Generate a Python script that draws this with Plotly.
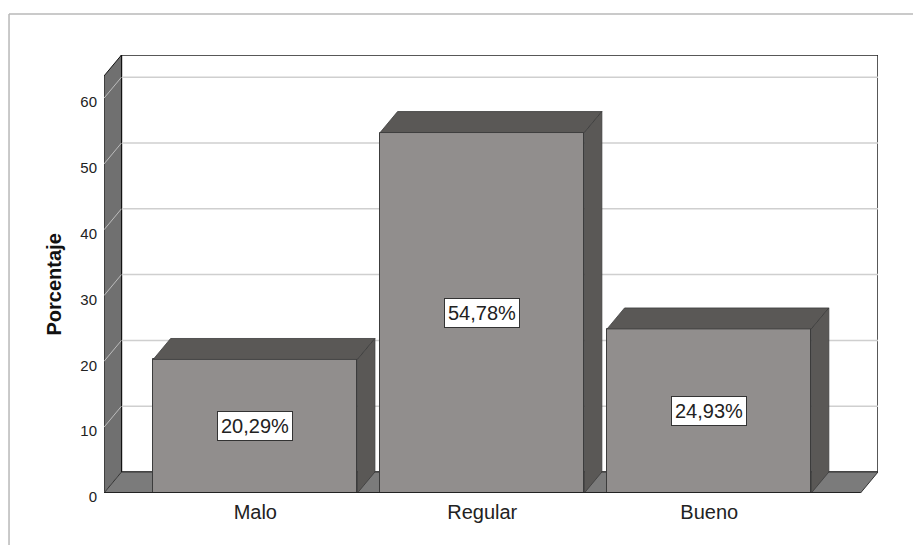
import plotly.graph_objects as go

# ---- data ----
categories = ["Malo", "Regular", "Bueno"]
percentages = [20.29, 54.78, 24.93]
y_ticks = [0, 10, 20, 30, 40, 50, 60]

# ---- style constants ----
FONT = "Liberation Sans, Arial, sans-serif"
BAR_W = 0.9
DX = 0.077          # depth offset (x units)
DY = 3.19           # depth offset (y units)
XL = -2 / 3         # front-left edge of floor
XR = 2 + 2 / 3      # front-right edge of floor
WALL_TOP = 63.37    # front height of the wall
Y_MAX = WALL_TOP + DY
FRONT = "#918e8d"
DARK = "#5a5856"
EDGE = "#3c3c3c"

fig = go.Figure()

# front faces of bars
fig.add_trace(go.Bar(
    x=list(range(len(categories))), y=percentages, width=BAR_W,
    marker=dict(color=FRONT, line=dict(color=EDGE, width=1)),
    hoverinfo="skip", showlegend=False,
))

# top and side faces (3D effect)
for i, v in enumerate(percentages):
    x0, x1 = i - BAR_W / 2, i + BAR_W / 2
    fig.add_trace(go.Scatter(
        x=[x0, x1, x1 + DX, x0 + DX, x0], y=[v, v, v + DY, v + DY, v],
        mode="lines", fill="toself", fillcolor=DARK,
        line=dict(color=EDGE, width=0.8), hoverinfo="skip", showlegend=False))
    fig.add_trace(go.Scatter(
        x=[x1, x1, x1 + DX, x1 + DX, x1], y=[0, v, v + DY, DY, 0],
        mode="lines", fill="toself", fillcolor=DARK,
        line=dict(color=EDGE, width=0.8), hoverinfo="skip", showlegend=False))

shapes = []
# back wall
shapes.append(dict(type="rect", xref="x", yref="y", x0=XL + DX, x1=XR + DX,
                   y0=DY, y1=Y_MAX, fillcolor="white",
                   line=dict(color="#222", width=1.5), layer="below"))
for t in y_ticks[1:]:
    shapes.append(dict(type="line", xref="x", yref="y", x0=XL + DX, x1=XR + DX,
                       y0=t + DY, y1=t + DY, line=dict(color="#cfcfcf", width=1.5),
                       layer="below"))
# left side panel
shapes.append(dict(type="path", xref="x", yref="y",
                   path=f"M {XL},0 L {XL},{WALL_TOP} L {XL+DX},{WALL_TOP+DY} L {XL+DX},{DY} Z",
                   fillcolor="#707070", line=dict(color="#111", width=1), layer="below"))
for t in y_ticks:
    shapes.append(dict(type="line", xref="x", yref="y", x0=XL, x1=XL + DX,
                       y0=t, y1=t + DY, line=dict(color="#bdbdbd", width=1),
                       layer="below"))
# floor
shapes.append(dict(type="path", xref="x", yref="y",
                   path=f"M {XL},0 L {XR},0 L {XR+DX},{DY} L {XL+DX},{DY} Z",
                   fillcolor="#7b7b7b", line=dict(color="#333", width=1), layer="below"))
shapes.append(dict(type="line", xref="x", yref="y", x0=XL, x1=XR, y0=0, y1=0,
                   line=dict(color="#222", width=2), layer="above"))
# outer frame (top and left)
shapes.append(dict(type="line", xref="paper", yref="paper",
                   x0=-0.1227, x1=1.06, y0=1.0936, y1=1.0936,
                   line=dict(color="#b8b8b8", width=1.5)))
shapes.append(dict(type="line", xref="paper", yref="paper",
                   x0=-0.1227, x1=-0.1227, y0=1.0936, y1=-0.13,
                   line=dict(color="#b8b8b8", width=1.5)))

annotations = []
for i, v in enumerate(percentages):
    annotations.append(dict(
        x=i, y=v / 2, xref="x", yref="y", showarrow=False,
        text=f"{v:.2f}%".replace(".", ","),
        font=dict(family=FONT, size=20, color="#222"),
        bgcolor="white", bordercolor="#333", borderwidth=1, borderpad=3))
annotations.append(dict(
    x=0, xref="paper", xanchor="right", xshift=-38,
    y=WALL_TOP / 2, yref="y", yanchor="middle", showarrow=False,
    text="<b>Porcentaje</b>", textangle=-90,
    font=dict(family=FONT, size=20, color="#111")))

fig.update_layout(
    width=913, height=545,
    margin=dict(l=104, r=35, t=55, b=52),
    paper_bgcolor="white", plot_bgcolor="rgba(0,0,0,0)",
    font=dict(family=FONT, color="#222"),
    shapes=shapes, annotations=annotations,
    xaxis=dict(range=[XL, XR + DX], tickvals=list(range(len(categories))),
               ticktext=categories, showgrid=False, zeroline=False, showline=False,
               ticks="", tickfont=dict(size=20, color="#222"), ticklabelstandoff=5,
               fixedrange=True),
    yaxis=dict(range=[0, Y_MAX], tickvals=y_ticks, ticktext=[str(t) for t in y_ticks],
               showgrid=False, zeroline=False, showline=False, ticks="",
               tickfont=dict(size=15, color="#222"), ticklabelstandoff=6,
               ticklabelshift=4, fixedrange=True),
    bargap=0,
)

fig.write_html("out.html")
